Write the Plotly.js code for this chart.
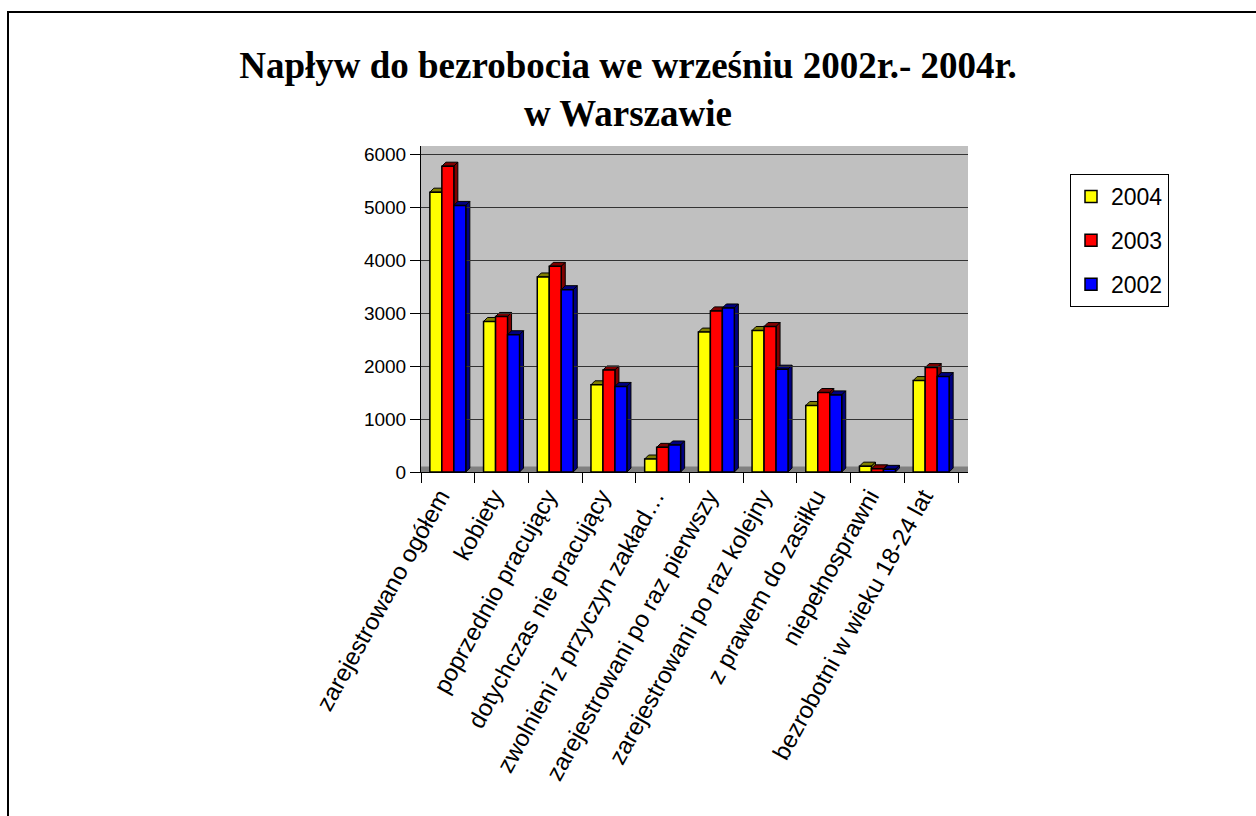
<!DOCTYPE html>
<html>
<head>
<meta charset="utf-8">
<script src="https://cdn.plot.ly/plotly-3.0.1.min.js"></script>
<style>
  html, body { margin: 0; padding: 0; background: #ffffff; }
  #chart { width: 1256px; height: 816px; }
  #frame { position: absolute; left: 7px; top: 11px; right: -10px; bottom: -10px;
           border-left: 2px solid #000; border-top: 2px solid #000; pointer-events: none; }
</style>
</head>
<body>
<div id="chart"></div>
<div id="frame"></div>
<script>
const categories = [
  "zarejestrowano ogółem",
  "kobiety",
  "poprzednio pracujący",
  "dotychczas nie pracujący",
  "zwolnieni z przyczyn zakład…",
  "zarejestrowani po raz pierwszy",
  "zarejestrowani po raz kolejny",
  "z prawem do zasiłku",
  "niepełnosprawni",
  "bezrobotni w wieku 18-24 lat"
];
const seriesNames = ["2004", "2003", "2002"];
const values2004 = [5280, 2840, 3680, 1645, 245, 2640, 2670, 1255, 110, 1725];
const values2003 = [5770, 2935, 3880, 1925, 465, 3040, 2745, 1500, 60, 1970];
const values2002 = [5030, 2590, 3440, 1615, 510, 3095, 1940, 1455, 50, 1800];
const yTicks = [0, 1000, 2000, 3000, 4000, 5000, 6000];

const frontColors = ["#FFFF00", "#FF0000", "#0000FF"];
const darkColors = ["#808000", "#800000", "#000080"];
const allValues = [values2004, values2003, values2002];

const bargap = 0.33;
const nSeries = allValues.length;
const barW = (1 - bargap) / nSeries;
const catPx = 53.7;
const depthPx = 4;
const yPerPx = 6151 / 326;
const depthY = depthPx * yPerPx;

const traces = allValues.map((vals, j) => ({
  type: "bar",
  name: seriesNames[j],
  x: categories,
  y: vals,
  legendgroup: "g" + j,
  marker: { color: frontColors[j], line: { color: "#000000", width: 1.5 } },
  hoverinfo: "x+y+name"
}));

// 3D faces (top + right side) computed from the data through the axes
const shapes = [];
shapes.push({
  type: "rect", xref: "paper", yref: "y", x0: 0, x1: 1, y0: 0, y1: depthY * 1.4,
  fillcolor: "#808080", line: { width: 0 }, layer: "below"
});
allValues.forEach((vals, j) => {
  vals.forEach((v, i) => {
    const left = i - (1 - bargap) / 2 + j * barW;
    const right = left + barW;
    const wPx = barW * catPx;
    shapes.push({
      type: "path", xref: "x", yref: "y", xsizemode: "pixel", xanchor: left,
      path: `M 0,${v} L ${depthPx},${v + depthY} L ${(wPx + depthPx).toFixed(2)},${v + depthY} L ${wPx.toFixed(2)},${v} Z`,
      fillcolor: darkColors[j], line: { color: "#000000", width: 1 }, layer: "below"
    });
    shapes.push({
      type: "path", xref: "x", yref: "y", xsizemode: "pixel", xanchor: right,
      path: `M 0,${v} L ${depthPx},${v + depthY} L ${depthPx},${depthY} L 0,0 Z`,
      fillcolor: darkColors[j], line: { color: "#000000", width: 1 }, layer: "below"
    });
  });
});

const layout = {
  width: 1256,
  height: 816,
  paper_bgcolor: "#ffffff",
  plot_bgcolor: "#C0C0C0",
  margin: { l: 421, r: 288, t: 146, b: 344, pad: 0 },
  title: {
    text: "<b>Napływ do bezrobocia we wrześniu 2002r.- 2004r.<br>w Warszawie</b>",
    font: { family: "Liberation Serif, Times New Roman, serif", size: 37, color: "#000000" },
    x: 0.5, xref: "container", xanchor: "center",
    y: 1 - 78 / 816, yref: "container", yanchor: "middle"
  },
  barmode: "group",
  bargap: bargap,
  bargroupgap: 0,
  showlegend: true,
  legend: {
    xref: "container", yref: "container",
    x: 1070 / 1256, y: 1 - 174 / 816, xanchor: "left", yanchor: "top",
    bgcolor: "#ffffff", bordercolor: "#000000", borderwidth: 1,
    font: { family: "Liberation Sans, Arial, sans-serif", size: 23, color: "#000000" },
    traceorder: "grouped", tracegroupgap: 11, itemwidth: 30
  },
  xaxis: {
    type: "category",
    range: [-0.5, 9.686],
    tickson: "boundaries",
    ticks: "outside", ticklen: 10, tickcolor: "#000000", tickwidth: 1,
    showline: true, linecolor: "#000000", linewidth: 1,
    showgrid: false,
    tickangle: -61,
    ticklabelshift: -8,
    tickfont: { family: "Liberation Sans, Arial, sans-serif", size: 24, color: "#000000" },
    fixedrange: true
  },
  yaxis: {
    range: [0, 6151],
    tickvals: yTicks,
    ticktext: yTicks.map(String),
    ticks: "outside", ticklen: 10, tickcolor: "#000000", tickwidth: 1,
    showline: true, linecolor: "#000000", linewidth: 1,
    showgrid: true, gridcolor: "#333333", gridwidth: 1,
    zeroline: false,
    tickfont: { family: "Liberation Sans, Arial, sans-serif", size: 19, color: "#000000" },
    fixedrange: true
  },
  shapes: shapes
};

Plotly.newPlot("chart", traces, layout, { displayModeBar: false, staticPlot: true });
</script>
</body>
</html>
